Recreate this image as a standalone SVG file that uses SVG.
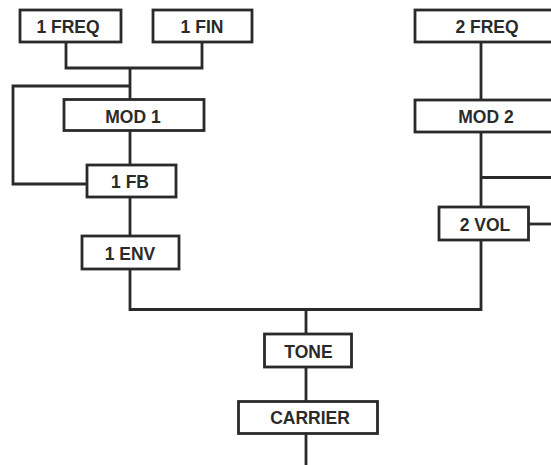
<svg xmlns="http://www.w3.org/2000/svg" width="551" height="465" viewBox="0 0 551 465">
<style>
.box{fill:#fff;stroke:#2a2a2a;stroke-width:2.8}
.lbl{font-family:"Liberation Sans",Arial,Helvetica,sans-serif;font-weight:bold;font-size:17.5px;fill:#2a2a2a;text-anchor:middle}
.wire{fill:none;stroke:#2a2a2a;stroke-width:2.8;stroke-linejoin:miter;stroke-linecap:butt}
</style>
<rect width="551" height="465" fill="#fff"/>
<g id="connectors">
<path class="wire" d="M66,42 V68 H202 V42"/>
<path class="wire" d="M130,68 V99.5"/>
<path class="wire" d="M130,86 H13 V184 H87"/>
<path class="wire" d="M130,130.5 V165"/>
<path class="wire" d="M130,197 V236"/>
<path class="wire" d="M130,269 V309.5 H481 V240"/>
<path class="wire" d="M481,42 V100"/>
<path class="wire" d="M481,132 V207"/>
<path class="wire" d="M481,177.5 H552"/>
<path class="wire" d="M528,224 H552"/>
<path class="wire" d="M306,309.5 V334"/>
<path class="wire" d="M306,367 V401.5"/>
<path class="wire" d="M306,433.5 V466"/>
</g>
<g id="freq1"><rect class="box" x="20" y="10" width="101" height="32"/><text class="lbl" x="68" y="33.3">1 FREQ</text></g>
<g id="fin1"><rect class="box" x="153" y="10" width="99" height="32"/><text class="lbl" x="202" y="33.3">1 FIN</text></g>
<g id="mod1"><rect class="box" x="64" y="99.5" width="140" height="31"/><text class="lbl" x="133" y="122.5">MOD 1</text></g>
<g id="fb1"><rect class="box" x="87" y="165" width="89" height="32"/><text class="lbl" x="130" y="188">1 FB</text></g>
<g id="env1"><rect class="box" x="82" y="236" width="97" height="33"/><text class="lbl" x="130" y="259.5">1 ENV</text></g>
<g id="freq2"><rect class="box" x="415" y="10" width="150" height="32"/><text class="lbl" x="487" y="33.3">2 FREQ</text></g>
<g id="mod2"><rect class="box" x="415" y="100" width="150" height="32"/><text class="lbl" x="486" y="123">MOD 2</text></g>
<g id="vol2"><rect class="box" x="439" y="207" width="89.5" height="33"/><text class="lbl" x="485" y="230.5">2 VOL</text></g>
<g id="tone"><rect class="box" x="264.5" y="334" width="87" height="33"/><text class="lbl" x="308.5" y="357.5">TONE</text></g>
<g id="carrier"><rect class="box" x="238.5" y="401.5" width="139" height="32"/><text class="lbl" x="310" y="424">CARRIER</text></g>
</svg>
